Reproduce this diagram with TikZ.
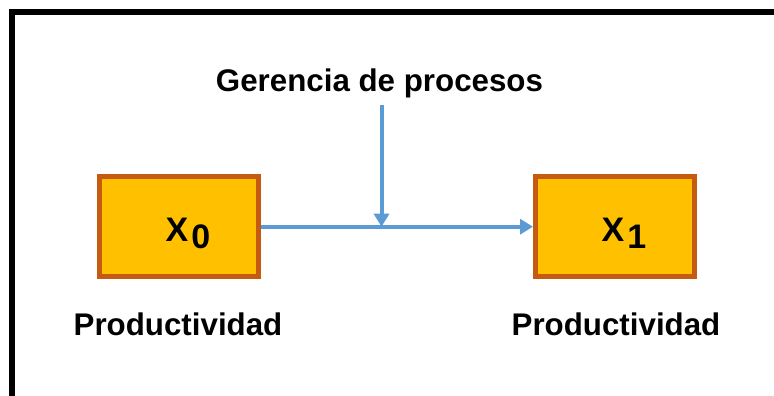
\documentclass[tikz,border=0pt]{standalone}
\usepackage{fontspec}
\setmainfont{Liberation Sans}
\usetikzlibrary{arrows.meta}
\definecolor{boxfill}{HTML}{FFC000}
\definecolor{boxline}{HTML}{C55A11}
\definecolor{arrowblue}{HTML}{5B9BD5}
\tikzset{
  statebox/.style={draw=boxline, fill=boxfill, line width=5pt, minimum width=158.5pt, minimum height=100pt, inner sep=0pt},
  lbl/.style={font=\fontsize{31.3}{34}\selectfont\bfseries, inner sep=0pt, anchor=base},
  xlbl/.style={font=\fontsize{34}{36}\selectfont\bfseries, inner sep=0pt, anchor=base west},
  flow/.style={draw=arrowblue, line width=4pt, -{Triangle[width=15pt,length=13pt]}}
}
\begin{document}
\begin{tikzpicture}[x=1pt, y=-1pt]
\useasboundingbox (0,0) rectangle (774,396);
% frame
\draw[line width=6pt, line join=miter] (12,420) -- (12,12) -- (800,12);
% boxes
\node[statebox] (b0) at (178.75,226.5) {};
\node[statebox] (b1) at (614.75,226.5) {};
\node[xlbl] (x0) at (165.5,241) {X\hspace{3pt}\raisebox{-7pt}{0}};
\node[xlbl] (x1) at (601.5,241) {X\hspace{3pt}\raisebox{-7pt}{1}};
% labels
\node[lbl] (g) at (379.5,92) {Gerencia de procesos};
\node[lbl] (p0) at (178,335) {Productividad};
\node[lbl] (p1) at (616,335) {Productividad};
% arrows
\coordinate (top) at (381.5,105);
\coordinate (join) at (381.5,226.7);
\draw[flow] (b0.east |- join) -- (b1.west |- join);
\draw[flow] (top) -- (join);
\end{tikzpicture}
\end{document}
